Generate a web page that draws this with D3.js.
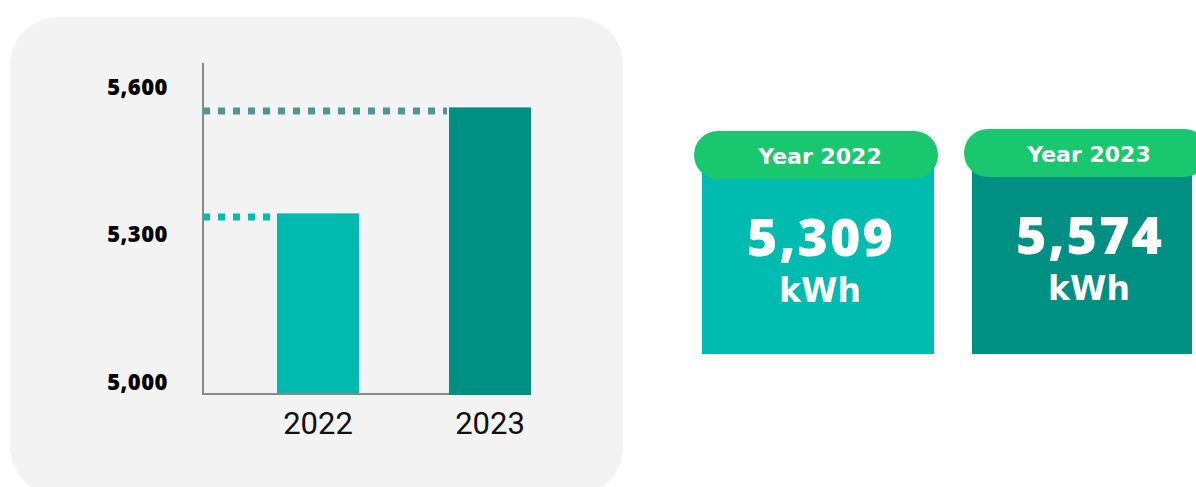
<!DOCTYPE html>
<html>
<head>
<meta charset="utf-8">
<script src="https://cdn.jsdelivr.net/npm/d3@7"></script>
<style>
  html, body { margin: 0; padding: 0; background: #fff; overflow: hidden; }
  svg { display: block; }
</style>
</head>
<body>
<svg id="chart" width="1196" height="487"></svg>
<script>
// data
const years = ['2022', '2023'];
const values = [5309, 5574];
const tickValues = [5000, 5300, 5600];
const unit = 'kWh';

const barColors = ['#00bab0', '#008f83'];
const dotColors = ['#00bcb1', '#4f9797'];
const cardColors = ['#00bbb0', '#008f83'];
const headerColor = '#19c86e';

const svg = d3.select('#chart');

// grey panel behind the bar chart
svg.append('rect')
  .attr('x', 10).attr('y', 17)
  .attr('width', 613).attr('height', 478)
  .attr('rx', 48).attr('ry', 48)
  .attr('fill', '#f3f3f3');

const axisX = 203;
const baseY = 394;

const x = d3.scaleBand()
  .domain(years)
  .range([234, 574])
  .paddingInner(0.523)
  .paddingOuter(0.25);

// bars are drawn on a truncated scale
const yBar = d3.scaleLinear()
  .domain([4855, 5600])
  .range([395, 97]);

// tick labels are spaced evenly as in the original
const yTick = d3.scaleLinear()
  .domain([5000, 5600])
  .range([382.5, 87]);

const rows = years.map((year, i) => ({ year, value: values[i], i }));

const main = svg.append('g').attr('class', 'main');

// dotted guide lines
main.selectAll('.guide')
  .data(rows)
  .enter()
  .append('line')
  .attr('class', 'guide')
  .attr('x1', axisX)
  .attr('x2', d => x(d.year) - 2)
  .attr('y1', d => yBar(d.value) + 3.5)
  .attr('y2', d => yBar(d.value) + 3.5)
  .attr('stroke', d => dotColors[d.i])
  .attr('stroke-width', 7)
  .attr('stroke-dasharray', '7,8');

// axis lines
main.append('line')
  .attr('x1', axisX).attr('x2', axisX)
  .attr('y1', 63).attr('y2', baseY + 1)
  .attr('stroke', '#8a8a8a').attr('stroke-width', 2);

main.append('line')
  .attr('x1', axisX).attr('x2', x(years[years.length - 1]))
  .attr('y1', baseY).attr('y2', baseY)
  .attr('stroke', '#8a8a8a').attr('stroke-width', 2);

// bars
main.selectAll('.bar')
  .data(rows)
  .enter()
  .append('rect')
  .attr('class', 'bar')
  .attr('x', d => x(d.year))
  .attr('y', d => yBar(d.value))
  .attr('width', x.bandwidth())
  .attr('height', d => yBar.range()[0] - yBar(d.value) - (d.i === 0 ? 2 : 0))
  .attr('fill', d => barColors[d.i]);

const yAxis = d3.axisLeft(yTick)
  .tickValues(tickValues)
  .tickSize(0)
  .tickPadding(35)
  .tickFormat(d3.format(','));

main.append('g')
  .attr('class', 'yAxis')
  .attr('transform', `translate(${axisX},0)`)
  .call(yAxis)
  .call(g => g.select('.domain').remove())
  .selectAll('text')
  .attr('font-family', '"Open Sans", sans-serif')
  .attr('font-weight', 800)
  .attr('font-size', 22)
  .attr('letter-spacing', 0.5)
  .attr('fill', '#000');

const xAxis = d3.axisBottom(x)
  .tickSize(0)
  .tickPadding(18);

main.append('g')
  .attr('class', 'xAxis')
  .attr('transform', `translate(0,${baseY})`)
  .call(xAxis)
  .call(g => g.select('.domain').remove())
  .selectAll('text')
  .attr('font-family', 'Roboto, sans-serif')
  .attr('font-size', 31)
  .attr('fill', '#111');

// value cards
const cards = [
  { x: 702, w: 232, hx: 694, hw: 244, hy: 131, cx: 820 },
  { x: 972, w: 220, hx: 964, hw: 244, hy: 129, cx: 1089 }
];

const card = svg.selectAll('.card')
  .data(rows)
  .enter()
  .append('g')
  .attr('class', 'card');

card.append('rect')
  .attr('x', d => cards[d.i].x)
  .attr('y', d => cards[d.i].hy + 24)
  .attr('width', d => cards[d.i].w)
  .attr('height', d => 354 - cards[d.i].hy - 24)
  .attr('fill', d => cardColors[d.i]);

card.append('rect')
  .attr('x', d => cards[d.i].hx)
  .attr('y', d => cards[d.i].hy)
  .attr('width', d => cards[d.i].hw)
  .attr('height', 48)
  .attr('rx', 24).attr('ry', 24)
  .attr('fill', headerColor);

card.append('text')
  .attr('x', d => cards[d.i].cx)
  .attr('y', d => cards[d.i].hy + 33)
  .attr('text-anchor', 'middle')
  .attr('font-family', '"DejaVu Sans", sans-serif')
  .attr('font-weight', 700)
  .attr('font-size', 22)
  .attr('fill', '#fff')
  .text(d => `Year ${d.year}`);

card.append('text')
  .attr('x', d => cards[d.i].cx + 1)
  .attr('y', d => cards[d.i].hy + 125)
  .attr('text-anchor', 'middle')
  .attr('font-family', '"Open Sans", sans-serif')
  .attr('font-weight', 800)
  .attr('font-size', 52)
  .attr('letter-spacing', 2)
  .attr('fill', '#fff')
  .text(d => d3.format(',')(d.value));

card.append('text')
  .attr('x', d => cards[d.i].cx)
  .attr('y', d => cards[d.i].hy + 171)
  .attr('text-anchor', 'middle')
  .attr('font-family', '"DejaVu Sans", sans-serif')
  .attr('font-weight', 700)
  .attr('font-size', 33)
  .attr('fill', '#fff')
  .text(unit);
</script>
</body>
</html>
